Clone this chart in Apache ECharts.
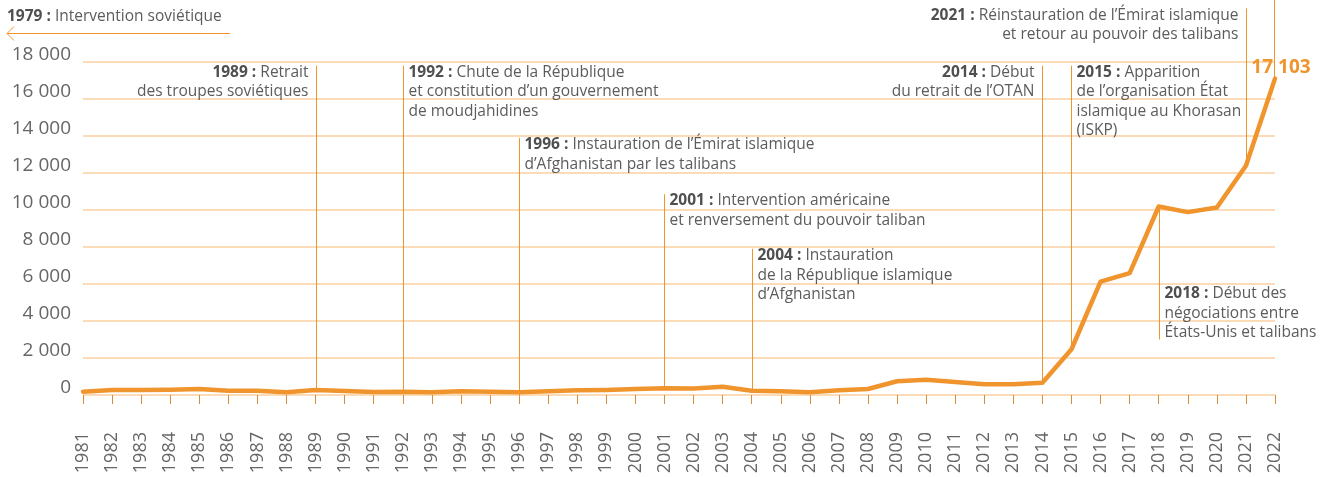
<!DOCTYPE html>
<html>
<head>
<meta charset="utf-8">
<script src="https://cdn.jsdelivr.net/npm/echarts@6/dist/echarts.min.js"></script>
<style>
  html, body { margin: 0; padding: 0; background: #fff; }
  #chart { width: 1327px; height: 477px; }
</style>
</head>
<body>
<div id="chart"></div>
<script>
  // années
  var years = ['1981','1982','1983','1984','1985','1986','1987','1988','1989','1990',
    '1991','1992','1993','1994','1995','1996','1997','1998','1999','2000',
    '2001','2002','2003','2004','2005','2006','2007','2008','2009','2010',
    '2011','2012','2013','2014','2015','2016','2017','2018','2019','2020',
    '2021','2022'];
  // valeurs
  var values = [180, 270, 270, 290, 325, 233, 233, 146, 270, 216,
    163, 180, 146, 200, 180, 146, 200, 254, 270, 320,
    370, 350, 450, 233, 200, 146, 254, 325, 741, 828,
    703, 579, 579, 665, 2473, 6131, 6584, 10190, 9884, 10135,
    12391, 17103];
  var yMax = 18000;
  var yStep = 2000;

  // repères chronologiques
  var notes = [
    { year: '1989', head: '1989 :', lines: ['Retrait', 'des troupes soviétiques'], side: 'left', top: 17800 },
    { year: '1992', head: '1992 :', lines: ['Chute de la République', 'et constitution d\u2019un gouvernement', 'de moudjahidines'], side: 'right', top: 17800 },
    { year: '1996', head: '1996 :', lines: ['Instauration de l\u2019\u00c9mirat islamique', 'd\u2019Afghanistan par les talibans'], side: 'right', top: 13900, bottom: -100 },
    { year: '2001', head: '2001 :', lines: ['Intervention am\u00e9ricaine', 'et renversement du pouvoir taliban'], side: 'right', top: 10850 },
    { year: '2004', head: '2004 :', lines: ['Instauration', 'de la R\u00e9publique islamique', 'd\u2019Afghanistan'], side: 'right', top: 7900 },
    { year: '2014', head: '2014 :', lines: ['D\u00e9but', 'du retrait de l\u2019OTAN'], side: 'left', top: 17800 },
    { year: '2015', head: '2015 :', lines: ['Apparition', 'de l\u2019organisation \u00c9tat', 'islamique au Khorasan', '(ISKP)'], side: 'right', top: 17800 },
    { year: '2018', head: '2018 :', lines: ['D\u00e9but des', 'n\u00e9gociations entre', '\u00c9tats-Unis et talibans'], side: 'right', bottom: 3000 },
    { year: '2021', head: '2021 :', lines: ['R\u00e9instauration de l\u2019\u00c9mirat islamique', 'et retour au pouvoir des talibans'], side: 'left', top: 20900 }
  ];

  var FONT = '"Open Sans", "Noto Sans", sans-serif';
  var ORANGE = '#f0942e';
  var TEXT = '#5c5c5c';

  var chart = echarts.init(document.getElementById('chart'));

  chart.setOption({
    animation: false,
    grid: { left: 83, right: 52, top: 62, bottom: 82 },
    xAxis: {
      type: 'category',
      data: years,
      boundaryGap: false,
      offset: 11,
      axisLine: { show: false },
      axisTick: { show: true, length: 9, alignWithLabel: true, lineStyle: { color: '#d98a3c', width: 1 } },
      axisLabel: {
        interval: 0, rotate: 90, margin: 26,
        color: '#666', fontSize: 18, fontFamily: FONT
      },
      splitLine: { show: false }
    },
    yAxis: {
      type: 'value',
      min: 0, max: yMax, interval: yStep,
      axisLine: { show: false },
      axisTick: { show: false },
      axisLabel: {
        margin: 12, color: '#666', fontSize: 19, fontFamily: FONT,
        verticalAlign: 'bottom', lineHeight: 14,
        formatter: function (v) { return String(v).replace(/\B(?=(\d{3})+(?!\d))/g, ' '); }
      },
      splitLine: { lineStyle: { color: '#fbd0a0', width: 1.5 } }
    },
    series: [{
      type: 'line',
      data: values,
      symbol: 'none',
      z: 5,
      lineStyle: { color: ORANGE, width: 4.5, cap: 'round', join: 'round' }
    }]
  });

  // annotations placées via l'échelle du graphique
  function px(year, v) {
    return chart.convertToPixel({ gridIndex: 0 }, [years.indexOf(year), v]);
  }

  var rich = {
    b: { fontFamily: FONT, fontSize: 15.5, fontWeight: 'bold', fill: '#4f4f4f', lineHeight: 19.5 },
    n: { fontFamily: FONT, fontSize: 15.5, fill: TEXT, lineHeight: 19.5 }
  };

  var graphics = [];
  notes.forEach(function (n) {
    var val = values[years.indexOf(n.year)];
    var topV = n.top != null ? n.top : val;
    var botV = n.bottom != null ? n.bottom : val;
    var p1 = px(n.year, topV);
    var p2 = px(n.year, botV);
    var x = Math.round(p1[0]) + 0.5;
    graphics.push({
      type: 'line', z: 1,
      shape: { x1: x, y1: p1[1], x2: x, y2: p2[1] },
      style: { stroke: ORANGE, lineWidth: 1 }
    });
    var txt = '{b|' + n.head + '}{n| ' + n.lines[0] + '}';
    for (var i = 1; i < n.lines.length; i++) txt += '\n{n|' + n.lines[i] + '}';
    var atBottom = n.top == null;
    graphics.push({
      type: 'text', z: 10,
      x: n.side === 'left' ? x - 8 : x + 5,
      y: atBottom ? p2[1] + 3 : p1[1] - 3,
      style: {
        text: txt, rich: rich,
        align: n.side === 'left' ? 'right' : 'left',
        verticalAlign: atBottom ? 'bottom' : 'top',
        font: '15.5px ' + FONT, fill: TEXT, lineHeight: 19.5
      }
    });
  });

  // dernière valeur
  var lastYear = years[years.length - 1];
  var lastVal = values[values.length - 1];
  var pe = px(lastYear, lastVal);
  var pe0 = px(lastYear, 21400);
  graphics.push({
    type: 'line', z: 1,
    shape: { x1: Math.round(pe[0]) - 0.5, y1: pe0[1], x2: Math.round(pe[0]) - 0.5, y2: pe[1] },
    style: { stroke: ORANGE, lineWidth: 1 }
  });
  graphics.push({
    type: 'text', z: 10,
    x: pe[0] + 6, y: pe[1] - 11,
    style: {
      text: String(lastVal).replace(/\B(?=(\d{3})+(?!\d))/g, ' '),
      font: 'bold 19px ' + FONT, fill: ORANGE,
      align: 'center', verticalAlign: 'middle'
    }
  });

  // 1979, hors échelle
  graphics.push({
    type: 'text', z: 10, x: 7, y: 17,
    style: {
      text: '{b|1979 :}{n| Intervention sovi\u00e9tique}', rich: rich,
      align: 'left', verticalAlign: 'middle', font: '15.5px ' + FONT
    }
  });
  graphics.push({
    type: 'polyline', z: 10,
    shape: { points: [[230, 33.5], [7, 33.5]] },
    style: { stroke: ORANGE, lineWidth: 1, fill: null }
  });
  graphics.push({
    type: 'polyline', z: 10,
    shape: { points: [[14, 26.5], [7, 33.5], [14, 40.5]] },
    style: { stroke: ORANGE, lineWidth: 1, fill: null }
  });

  chart.setOption({ graphic: graphics });
</script>
</body>
</html>
